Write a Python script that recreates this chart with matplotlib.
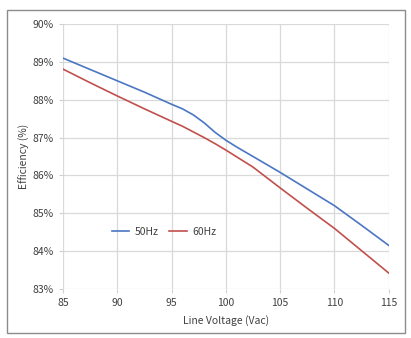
import matplotlib.pyplot as plt
from matplotlib.patches import Rectangle
from matplotlib.ticker import FuncFormatter

plt.rcParams['font.family'] = ['Noto Sans CJK KR', 'DejaVu Sans']

# Line voltage (Vac)
voltage = [85, 87.5, 90, 92.5, 95, 96, 97, 98, 99, 100, 101, 102.5, 105, 107.5, 110, 112.5, 115]
# Efficiency (%)
eff_50hz = [89.10, 88.80, 88.50, 88.20, 87.88, 87.76, 87.60, 87.39, 87.14, 86.93, 86.75, 86.50,
            86.08, 85.64, 85.20, 84.68, 84.15]
eff_60hz = [88.81, 88.45, 88.10, 87.76, 87.43, 87.30, 87.15, 87.00, 86.84, 86.67, 86.49, 86.22,
            85.67, 85.13, 84.60, 84.01, 83.42]

xticks = [85, 90, 95, 100, 105, 110, 115]
yticks = [83, 84, 85, 86, 87, 88, 89, 90]

fig = plt.figure(figsize=(4.11, 3.38), dpi=100)
ax = fig.add_axes([0.153, 0.145, 0.793, 0.784])

# outer chart border
fig.patches.append(Rectangle((7 / 411, 5 / 338), 398 / 411, 323 / 338, transform=fig.transFigure,
                             fill=False, edgecolor='#8c8c8c', linewidth=1.0))

ax.plot(voltage, eff_50hz, color='#4a76c2', linewidth=1.2, label='50Hz')
ax.plot(voltage, eff_60hz, color='#c0504d', linewidth=1.2, label='60Hz')

ax.set_xlim(85, 115)
ax.set_ylim(83, 90)
ax.set_xticks(xticks)
ax.set_yticks(yticks)
ax.yaxis.set_major_formatter(FuncFormatter(lambda v, p: '%d%%' % v))
ax.grid(True, color='#d9d9d9', linewidth=0.9)
ax.set_axisbelow(True)
for s in ax.spines.values():
    s.set_visible(False)
ax.tick_params(axis='both', labelsize=7.5, colors='#d0d0d0', labelcolor='#404040', length=3, width=0.8)

ax.set_xlabel('Line Voltage (Vac)', fontsize=7.5, color='#404040', labelpad=5)
ax.set_ylabel('Efficiency (%)', fontsize=7.5, color='#404040', labelpad=2)

ax.legend(loc='center', bbox_to_anchor=(0.31, 0.215), ncol=2, frameon=False, fontsize=7.5,
          handlelength=1.7, columnspacing=1.0, handletextpad=0.5, labelcolor='#404040')

fig.savefig('out.png', dpi=100, facecolor='white')
